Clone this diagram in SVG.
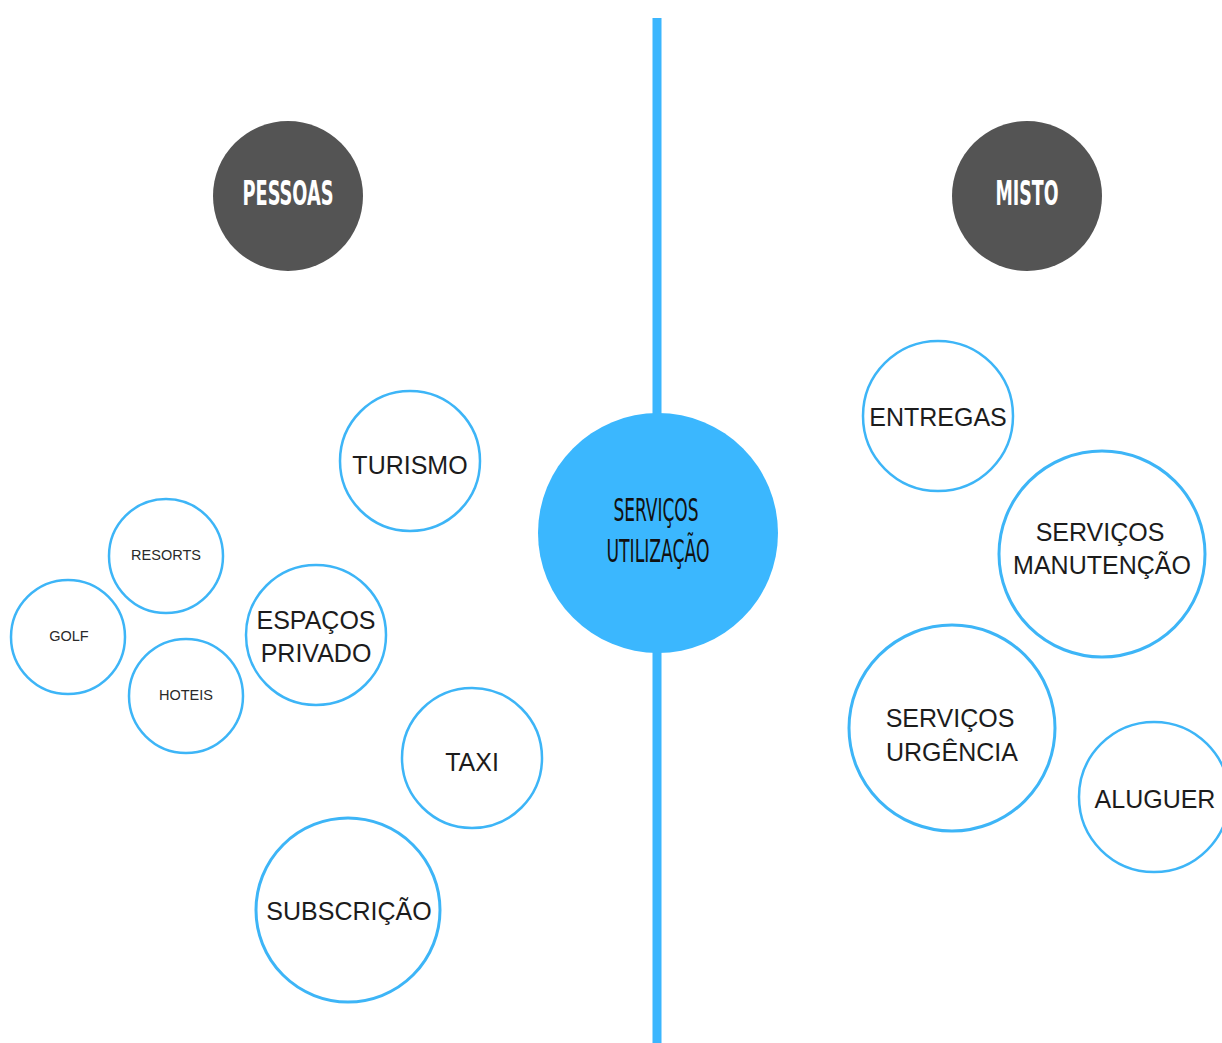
<svg xmlns="http://www.w3.org/2000/svg" width="1222" height="1043" viewBox="0 0 1222 1043">
<style>
.bub{fill:#ffffff;stroke:#3db5f7;stroke-width:2.5}
.big{stroke-width:3}
.t{font-family:"Liberation Sans",Arial,sans-serif;font-size:25px;fill:#1c1c1c;text-anchor:middle}
.s{font-family:"Liberation Sans",Arial,sans-serif;font-size:14.5px;fill:#2a2a2a;text-anchor:middle}
.h{font-family:"Liberation Sans Narrow","DejaVu Sans Condensed","Liberation Sans",sans-serif;font-weight:bold;font-size:34px;text-anchor:middle}
.c{font-weight:normal;font-size:32px;fill:#111111}
</style>
<rect width="1222" height="1043" fill="#ffffff"/>
<g id="connectors">
<line x1="657" y1="18" x2="657" y2="1043" stroke="#3bb6fe" stroke-width="9"/>
</g>
<g id="servicos-utilizacao">
<circle cx="658" cy="533" r="120" fill="#3bb7fe"/>
<text class="h c" x="656" y="521" textLength="85" lengthAdjust="spacingAndGlyphs">SERVIÇOS</text>
<text class="h c" x="658" y="562" textLength="103" lengthAdjust="spacingAndGlyphs">UTILIZAÇÃO</text>
</g>
<g id="pessoas">
<circle cx="288" cy="196" r="75" fill="#545454"/>
<text class="h" x="288" y="205" fill="#ffffff" textLength="91" lengthAdjust="spacingAndGlyphs">PESSOAS</text>
</g>
<g id="misto">
<circle cx="1027" cy="196" r="75" fill="#545454"/>
<text class="h" x="1027" y="205" fill="#ffffff" textLength="63" lengthAdjust="spacingAndGlyphs">MISTO</text>
</g>
<g id="turismo">
<circle class="bub" cx="410" cy="461" r="70"/>
<text class="t" x="410" y="474">TURISMO</text>
</g>
<g id="resorts">
<circle class="bub" cx="166" cy="556" r="57"/>
<text class="s" x="166" y="560">RESORTS</text>
</g>
<g id="golf">
<circle class="bub" cx="68" cy="637" r="57"/>
<text class="s" x="69" y="641">GOLF</text>
</g>
<g id="hoteis">
<circle class="bub" cx="186" cy="696" r="57"/>
<text class="s" x="186" y="700">HOTEIS</text>
</g>
<g id="espacos-privado">
<circle class="bub" cx="316" cy="635" r="70"/>
<text class="t" x="316" y="629">ESPAÇOS</text>
<text class="t" x="316" y="662">PRIVADO</text>
</g>
<g id="taxi">
<circle class="bub" cx="472" cy="758" r="70"/>
<text class="t" x="472" y="771">TAXI</text>
</g>
<g id="subscricao">
<circle class="bub big" cx="348" cy="910" r="92"/>
<text class="t" x="349" y="920">SUBSCRIÇÃO</text>
</g>
<g id="entregas">
<circle class="bub" cx="938" cy="416" r="75"/>
<text class="t" x="938" y="426">ENTREGAS</text>
</g>
<g id="servicos-manutencao">
<circle class="bub big" cx="1102" cy="554" r="103"/>
<text class="t" x="1100" y="541">SERVIÇOS</text>
<text class="t" x="1102" y="574">MANUTENÇÃO</text>
</g>
<g id="servicos-urgencia">
<circle class="bub big" cx="952" cy="728" r="103"/>
<text class="t" x="950" y="727">SERVIÇOS</text>
<text class="t" x="952" y="761">URGÊNCIA</text>
</g>
<g id="aluguer">
<circle class="bub" cx="1154" cy="797" r="75"/>
<text class="t" x="1155" y="808">ALUGUER</text>
</g>
</svg>
